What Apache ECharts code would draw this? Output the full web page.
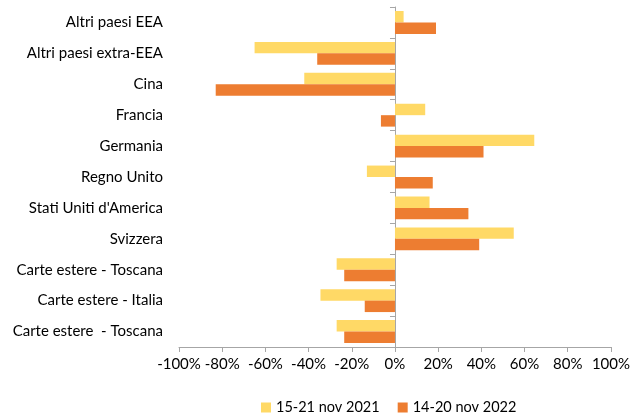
<!DOCTYPE html>
<html>
<head>
<meta charset="utf-8">
<script src="https://cdn.jsdelivr.net/npm/echarts@6/dist/echarts.min.js"></script>
<style>
  html, body { margin: 0; padding: 0; background: #fff; }
  #chart { width: 633px; height: 416px; }
</style>
</head>
<body>
<div id="chart"></div>
<script>
// Categories (top to bottom) and percentage changes for the two weeks
const categories = [
  'Altri paesi EEA',
  'Altri paesi extra-EEA',
  'Cina',
  'Francia',
  'Germania',
  'Regno Unito',
  "Stati Uniti d'America",
  'Svizzera',
  'Carte estere - Toscana',
  'Carte estere - Italia',
  'Carte estere  - Toscana'
];
const seriesNames = ['15-21 nov 2021', '14-20 nov 2022'];
const values2021 = [4, -65, -42, 14, 64.5, -13, 16, 55, -27, -34.5, -27];
const values2022 = [19, -36, -83, -6.5, 41, 17.5, 34, 39, -23.5, -14, -23.5];
const tickValues = [-100, -80, -60, -40, -20, 0, 20, 40, 60, 80, 100];

const FONT = 'Lato, "Open Sans", sans-serif';

const chart = echarts.init(document.getElementById('chart'), null, { renderer: 'canvas' });

chart.setOption({
  animation: false,
  textStyle: { fontFamily: FONT },
  grid: { left: 179, right: 17, top: 7, bottom: 69, containLabel: false },
  legend: {
    data: seriesNames,
    top: 395,
    left: 256,
    itemWidth: 10,
    itemHeight: 10,
    itemGap: 18,
    icon: 'rect',
    textStyle: { fontFamily: FONT, fontSize: 14.5, color: '#000' }
  },
  xAxis: {
    type: 'value',
    min: tickValues[0],
    max: tickValues[tickValues.length - 1],
    interval: 20,
    splitLine: { show: false },
    axisLine: { show: true, onZero: false, lineStyle: { color: '#a6a6a6' } },
    axisTick: { show: true, length: 5, lineStyle: { color: '#a6a6a6' } },
    axisLabel: {
      formatter: v => v + '%',
      fontFamily: FONT, fontSize: 15, color: '#000', margin: 10
    }
  },
  yAxis: [
    {
      // axis line and boundary ticks drawn at 0%
      type: 'category',
      data: categories,
      inverse: true,
      axisLine: { show: true, onZero: true, lineStyle: { color: '#a6a6a6' } },
      axisTick: { show: true, length: 5, lineStyle: { color: '#a6a6a6' } },
      axisLabel: { show: false }
    },
    {
      // category names along the left edge
      type: 'category',
      data: categories,
      inverse: true,
      position: 'left',
      axisLine: { show: false },
      axisTick: { show: false },
      axisLabel: { fontFamily: FONT, fontSize: 15, color: '#000', margin: 16 }
    }
  ],
  series: [
    {
      name: seriesNames[0],
      type: 'bar',
      yAxisIndex: 0,
      data: values2021,
      barGap: '0%',
      barCategoryGap: '26%',
      itemStyle: { color: '#FFD966' }
    },
    {
      name: seriesNames[1],
      type: 'bar',
      yAxisIndex: 0,
      data: values2022,
      barGap: '0%',
      barCategoryGap: '26%',
      itemStyle: { color: '#ED7D31' }
    }
  ]
});
</script>
</body>
</html>
